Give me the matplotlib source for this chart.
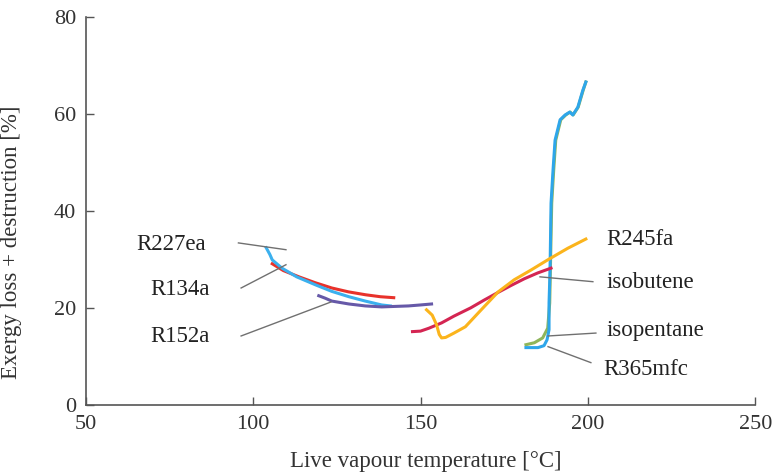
import matplotlib
matplotlib.use("Agg")
import matplotlib.pyplot as plt

plt.rcParams['font.family'] = ['Liberation Serif', 'DejaVu Serif']

# Data (live vapour temperature [°C], exergy loss + destruction [%])
r227ea_T = [103.9, 105.0, 105.7, 108.6, 113.0, 118.8, 123.5, 128.6, 133.5, 138.4, 141.0]
r227ea_E = [32.4, 31.0, 29.9, 28.2, 26.4, 24.7, 23.4, 22.3, 21.4, 20.6, 20.4]

r134a_T = [105.7, 109.0, 113.7, 118.5, 123.5, 128.5, 133.6, 138.0, 142.0]
r134a_E = [29.1, 27.7, 26.4, 25.2, 24.1, 23.3, 22.7, 22.3, 22.1]

r152a_T = [119.6, 121.5, 123.5, 128.6, 133.5, 138.4, 146.4, 150.0, 153.3]
r152a_E = [22.5, 22.0, 21.4, 20.8, 20.4, 20.2, 20.4, 20.6, 20.8]

isobutene_T = [147.6, 150.0, 152.5, 156.3, 160.0, 165.0, 169.0, 173.2, 177.0, 181.0, 185.0, 189.0]
isobutene_E = [15.1, 15.2, 15.8, 16.9, 18.3, 20.0, 21.6, 23.2, 24.6, 26.0, 27.2, 28.2]

r245fa_T = [151.8, 153.5, 154.8, 155.6, 156.3, 157.5, 160.0, 163.4, 168.0, 173.2, 178.0, 183.0, 188.0, 194.0, 199.4]
r245fa_E = [19.6, 18.5, 16.5, 14.5, 13.8, 13.9, 14.8, 16.1, 19.5, 23.3, 25.8, 27.8, 29.9, 32.3, 34.2]

isopentane_T = [181.5, 184.0, 186.5, 188.0, 188.6, 188.8, 189.2, 189.8, 190.4, 191.9, 193.4, 194.7, 195.6, 197.1, 198.6, 199.4]
isopentane_E = [12.4, 12.8, 13.8, 15.8, 21.0, 27.8, 41.6, 48.5, 54.6, 58.8, 59.8, 60.4, 59.8, 61.4, 64.9, 66.6]

r365mfc_T = [181.5, 185.1, 186.9, 187.8, 188.4, 188.4, 188.7, 189.0, 189.6, 190.2, 191.7, 193.2, 194.6, 195.5, 197.0, 198.5, 199.4]
r365mfc_E = [11.8, 11.8, 12.2, 13.4, 15.5, 21.0, 27.8, 41.6, 48.5, 54.6, 58.8, 59.8, 60.4, 59.8, 61.4, 64.9, 66.6]

# Annotation labels: text, text anchor, leader line start/end
labels = ["R227ea", "R134a", "R152a", "R245fa", "isobutene", "isopentane", "R365mfc"]
label_T = [86.0, 87.0, 87.0, 205.5, 205.5, 205.5, 204.5]
label_E = [33.0, 23.7, 14.0, 34.2, 25.3, 15.4, 7.2]
lead_T0 = [95.6, 96.4, 96.4, None, 185.7, 188.1, 188.1]
lead_E0 = [33.4, 24.1, 14.2, None, 26.4, 14.2, 12.0]
lead_T1 = [109.8, 109.8, 123.2, None, 201.5, 202.4, 200.9]
lead_E1 = [32.0, 28.9, 21.2, None, 25.4, 14.8, 8.7]
label_ha = ["right", "right", "right", "left", "left", "left", "left"]

xticks = [50, 100, 150, 200, 250]
yticks = [0, 20, 40, 60, 80]

fig = plt.figure(figsize=(7.73, 4.74), dpi=100)
ax = fig.add_axes([0.111, 0.146, 0.866, 0.818])

lw = 2.2
ax.plot(isopentane_T, isopentane_E, color="#8fb55a", lw=lw)
ax.plot(r365mfc_T, r365mfc_E, color="#2ea6ea", lw=lw)
ax.plot(r134a_T, r134a_E, color="#e8322b", lw=lw)
ax.plot(r227ea_T, r227ea_E, color="#3bb0ee", lw=lw)
ax.plot(r152a_T, r152a_E, color="#6659a8", lw=lw)
ax.plot(isobutene_T, isobutene_E, color="#d42552", lw=lw)
ax.plot(r245fa_T, r245fa_E, color="#fbb41c", lw=lw)

for i, lab in enumerate(labels):
    if lead_T0[i] is not None:
        ax.plot([lead_T0[i], lead_T1[i]], [lead_E0[i], lead_E1[i]], color="#707070", lw=1.0)
    ax.text(label_T[i], label_E[i], lab, ha=label_ha[i], va="center", fontsize=16.5, color="#222222")

ax.set_xlim(50, 250)
ax.set_ylim(0, 80)
ax.set_xticks(xticks)
ax.set_yticks(yticks)
ax.tick_params(direction="in", length=6, width=1, colors="#555555", labelcolor="#333333", labelsize=16)
ax.tick_params(axis="x", pad=7)
ax.tick_params(axis="y", pad=7)
ax.spines["top"].set_visible(False)
ax.spines["right"].set_visible(False)
for s in ["left", "bottom"]:
    ax.spines[s].set_color("#555555")
    ax.spines[s].set_linewidth(1.2)

ax.set_xlabel("Live vapour temperature [°C]", fontsize=16.5, color="#333333")
ax.set_ylabel("Exergy loss + destruction [%]", fontsize=16.5, color="#333333")
ax.xaxis.set_label_coords(0.508, -0.118)
ax.yaxis.set_label_coords(-0.095, 0.42)

fig.savefig("out.png", dpi=100)
